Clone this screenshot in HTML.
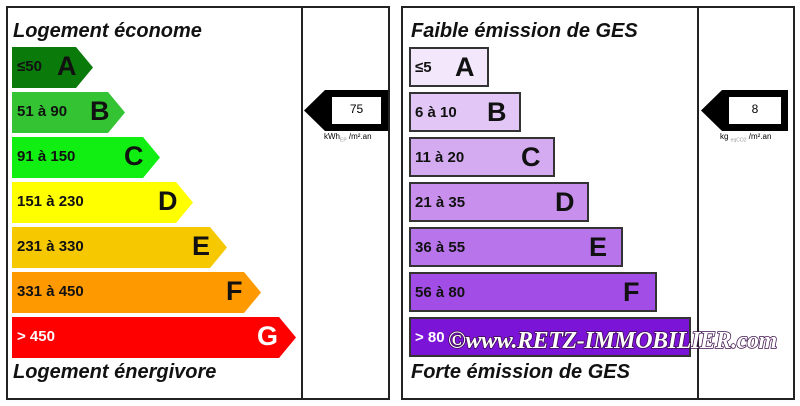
<!DOCTYPE html>
<html><head><meta charset="utf-8"><style>
body{margin:0;width:800px;height:406px;background:#fff;position:relative;overflow:hidden;font-family:"Liberation Sans",sans-serif}
.a{position:absolute;white-space:nowrap}
.t{position:absolute;font-weight:bold;font-style:italic;font-size:20px;color:#111;white-space:nowrap}
.lb{position:absolute;height:41px;width:280px;white-space:nowrap}
.lb span,.rb span{position:absolute;top:11px;left:5px;font-weight:bold;font-size:15px;color:#111;white-space:nowrap}
.lb b,.rb b{position:absolute;top:4px;font-size:27px;color:#111}
.rb{position:absolute;left:409px;height:40px;border:2px solid #333;box-sizing:border-box;white-space:nowrap}
.rb span{top:10px;left:4px}.rb b{top:3px}
</style></head><body>
<div class="a" style="left:6px;top:6px;width:380px;height:390px;border:2px solid #222"></div>
<div class="a" style="left:301px;top:6px;width:2px;height:392px;background:#222"></div>
<div class="a" style="left:401px;top:6px;width:390px;height:390px;border:2px solid #222"></div>
<div class="a" style="left:697px;top:6px;width:2px;height:392px;background:#222"></div>

<div class="t" style="left:13px;top:20px">Logement économe</div>
<div class="t" style="left:13px;top:361px">Logement énergivore</div>
<div class="t" style="left:411px;top:20px">Faible émission de GES</div>
<div class="t" style="left:411px;top:361px">Forte émission de GES</div>

<svg class="a" style="left:0;top:0" width="800" height="406">
<g>
<polygon points="12,47 76,47 93,67.5 76,88 12,88" fill="#0a7a0a"/>
<polygon points="12,92 108,92 125,112.5 108,133 12,133" fill="#33c333"/>
<polygon points="12,137 143,137 160,157.5 143,178 12,178" fill="#11ee11"/>
<polygon points="12,182 176,182 193,202.5 176,223 12,223" fill="#ffff00"/>
<polygon points="12,227 210,227 227,247.5 210,268 12,268" fill="#f5c800"/>
<polygon points="12,272 244,272 261,292.5 244,313 12,313" fill="#ff9900"/>
<polygon points="12,317 279,317 296,337.5 279,358 12,358" fill="#ff0000"/>
</g>
<polygon points="304,110.5 325,90 388,90 388,131 325,131" fill="#000"/>
<rect x="332" y="97" width="49" height="27" fill="#fff"/>
<polygon points="701,110.5 722,90 788,90 788,131 722,131" fill="#000"/>
<rect x="729" y="97" width="52" height="27" fill="#fff"/>
</svg>
<div class="a" style="left:332px;top:102px;width:49px;text-align:center;font-size:12px">75</div>
<div class="a" style="left:729px;top:102px;width:52px;text-align:center;font-size:12px">8</div>
<div class="a" style="left:324px;top:132px;font-size:8px">kWh<sub style="font-size:5px;color:#999">EP</sub> /m².an</div>
<div class="a" style="left:720px;top:132px;font-size:8px">kg <sub style="font-size:5px;color:#999">eqCO2</sub> /m².an</div>

<div class="lb" style="left:12px;top:47px"><span>≤50</span><b style="left:45px">A</b></div>
<div class="lb" style="left:12px;top:92px"><span>51 à 90</span><b style="left:78px">B</b></div>
<div class="lb" style="left:12px;top:137px"><span>91 à 150</span><b style="left:112px">C</b></div>
<div class="lb" style="left:12px;top:182px"><span>151 à 230</span><b style="left:146px">D</b></div>
<div class="lb" style="left:12px;top:227px"><span>231 à 330</span><b style="left:180px">E</b></div>
<div class="lb" style="left:12px;top:272px"><span>331 à 450</span><b style="left:214px">F</b></div>
<div class="lb" style="left:12px;top:317px"><span style="color:#fff">&gt; 450</span><b style="left:245px;color:#fff">G</b></div>

<div class="rb" style="top:47px;width:80px;background:#f3e7fb"><span>≤5</span><b style="left:44px">A</b></div>
<div class="rb" style="top:92px;width:112px;background:#e2c6f5"><span>6 à 10</span><b style="left:76px">B</b></div>
<div class="rb" style="top:137px;width:146px;background:#d4abf0"><span>11 à 20</span><b style="left:110px">C</b></div>
<div class="rb" style="top:182px;width:180px;background:#c890ec"><span>21 à 35</span><b style="left:144px">D</b></div>
<div class="rb" style="top:227px;width:214px;background:#b874ea"><span>36 à 55</span><b style="left:178px">E</b></div>
<div class="rb" style="top:272px;width:248px;background:#a24ee6"><span>56 à 80</span><b style="left:212px">F</b></div>
<div class="rb" style="top:317px;width:282px;background:#7c14d8"><span style="color:#fff">&gt; 80</span></div>

<div class="a" style="left:448px;top:328px;font-family:'Liberation Serif',serif;font-weight:bold;font-style:italic;font-size:24px;color:#fff;-webkit-text-stroke:1.5px #3a0b4a;paint-order:stroke fill;letter-spacing:-0.4px">©www.RETZ-IMMOBILIER.com</div>
</body></html>
